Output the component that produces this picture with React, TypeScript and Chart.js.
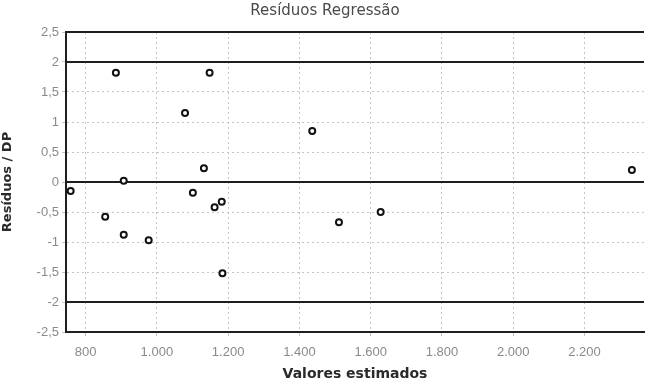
import React, { useEffect, useRef } from "react";
import { Chart, registerables } from "chart.js";

Chart.register(...registerables);

const titleText = "Resíduos Regressão";
const xAxisTitle = "Valores estimados";
const yAxisTitle = "Resíduos / DP";

// Estimated values (x) and standardized residuals (y)
const estimatedValues = [758, 885, 907, 1079, 1148, 1132, 1101, 1162, 1182, 1184, 855, 907, 977, 1436, 1511, 1628, 2333];
const residuals = [-0.15, 1.82, 0.02, 1.15, 1.82, 0.23, -0.18, -0.42, -0.33, -1.52, -0.58, -0.88, -0.97, 0.85, -0.67, -0.5, 0.2];

const xMin = 745;
const xMax = 2367;
const yMin = -2.5;
const yMax = 2.5;

const xTickValues = [800, 1000, 1200, 1400, 1600, 1800, 2000, 2200];
const xTickLabels = ["800", "1.000", "1.200", "1.400", "1.600", "1.800", "2.000", "2.200"];
const yTickValues = [-2.5, -2, -1.5, -1, -0.5, 0, 0.5, 1, 1.5, 2, 2.5];
const yTickLabels = ["-2,5", "-2", "-1,5", "-1", "-0,5", "0", "0,5", "1", "1,5", "2", "2,5"];

// Solid reference lines (limits ±2, zero, and frame)
const referenceLevels = [2.5, 2, 0, -2, -2.5];

export default function App() {
  const canvasRef = useRef<HTMLCanvasElement | null>(null);

  useEffect(() => {
    document.body.style.margin = "0";
    const canvas = canvasRef.current;
    if (!canvas) return;

    const points = estimatedValues.map((x, i) => ({ x, y: residuals[i] }));
    const refDatasets = referenceLevels.map((lvl) => ({
      type: "line" as const,
      data: [
        { x: xMin, y: lvl },
        { x: xMax, y: lvl },
      ],
      borderColor: "#1e1e1e",
      borderWidth: 2,
      pointRadius: 0,
      fill: false,
      clip: false as any,
      order: 2,
    }));

    const chart = new Chart(canvas, {
      type: "scatter",
      data: {
        datasets: [
          {
            type: "scatter",
            data: points,
            pointRadius: 3,
            pointBorderWidth: 2,
            pointBorderColor: "#111",
            pointBackgroundColor: "#fff",
            order: 1,
          } as any,
          ...refDatasets,
        ],
      },
      options: {
        animation: false,
        responsive: false,
        maintainAspectRatio: false,
        layout: { padding: { left: 0, right: 0, top: 0, bottom: 0 } },
        plugins: {
          legend: { display: false },
          tooltip: { enabled: false },
          title: {
            display: true,
            text: titleText,
            color: "#4a4a4a",
            font: { family: "DejaVu Sans", size: 15, weight: "normal" },
            padding: { top: 2, bottom: 12 },
          },
        },
        scales: {
          x: {
            type: "linear",
            min: xMin,
            max: xMax,
            afterBuildTicks: (scale: any) => {
              scale.ticks = xTickValues.map((v) => ({ value: v }));
            },
            afterFit: (scale: any) => {
              scale.height = 57;
            },
            ticks: {
              autoSkip: false,
              maxRotation: 0,
              padding: 9,
              color: "#8a8a8a",
              font: { family: "Liberation Sans", size: 13 },
              callback: (value: any) => {
                const i = xTickValues.indexOf(Number(value));
                return i >= 0 ? xTickLabels[i] : "";
              },
            },
            grid: {
              color: "#c4c4c4",
              lineWidth: 1,
              tickLength: 4,
              drawOnChartArea: true,
            },
            border: { display: true, color: "#1e1e1e", width: 2, dash: [2, 3] },
            title: {
              display: true,
              text: xAxisTitle,
              color: "#2a2a2a",
              font: { family: "DejaVu Sans", size: 14, weight: "bold" },
              padding: { top: 0, bottom: 6 },
            },
          },
          y: {
            type: "linear",
            min: yMin,
            max: yMax,
            afterBuildTicks: (scale: any) => {
              scale.ticks = yTickValues.map((v) => ({ value: v }));
            },
            afterFit: (scale: any) => {
              scale.width = 66;
            },
            ticks: {
              autoSkip: false,
              padding: 3,
              color: "#8a8a8a",
              font: { family: "Liberation Sans", size: 13 },
              callback: (value: any) => {
                const i = yTickValues.indexOf(Number(value));
                return i >= 0 ? yTickLabels[i] : "";
              },
            },
            grid: {
              color: "#c4c4c4",
              lineWidth: 1,
              tickLength: 4,
            },
            border: { display: true, color: "#1e1e1e", width: 2, dash: [2, 3] },
            title: {
              display: true,
              text: yAxisTitle,
              color: "#2a2a2a",
              font: { family: "DejaVu Sans", size: 13, weight: "bold" },
              padding: { top: 0, bottom: 2 },
            },
          },
        },
      } as any,
    });

    return () => chart.destroy();
  }, []);

  return (
    <div style={{ position: "relative", width: 650, height: 389, background: "#fff" }}>
      <canvas ref={canvasRef} width={650} height={389} style={{ display: "block" }} />
    </div>
  );
}
